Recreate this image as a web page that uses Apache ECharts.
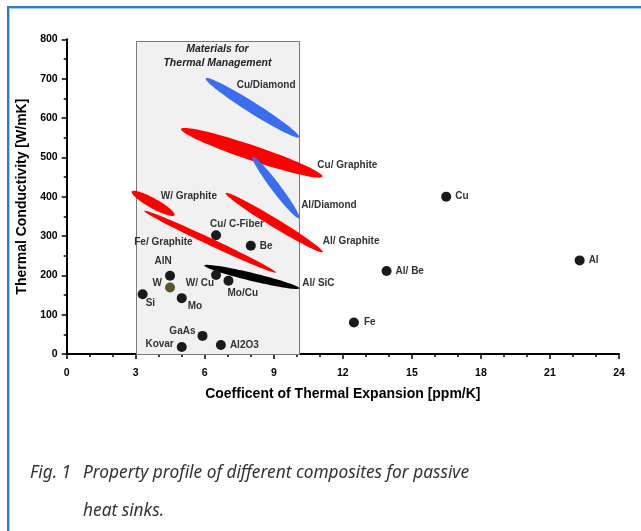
<!DOCTYPE html>
<html><head><meta charset="utf-8">
<script src="https://cdn.jsdelivr.net/npm/echarts@6/dist/echarts.min.js"></script>
<style>
html,body{margin:0;padding:0;background:#fff;width:641px;height:531px;overflow:hidden;}
#frameOuter{position:absolute;left:7px;top:6px;width:634px;height:525px;border-top:2px solid #2b7dc8;border-left:2px solid #2b7dc8;}
#frameInner{position:absolute;left:9px;top:8px;width:632px;height:523px;border-top:1px solid #a9cdee;border-left:1px solid #a9cdee;}
#chart{position:absolute;left:0;top:0;width:641px;height:531px;}
.cap{position:absolute;font-family:"Noto Sans",sans-serif;font-style:italic;font-size:17.3px;color:#333;white-space:nowrap;line-height:22px;}
</style>
</head><body>
<div id="frameOuter"></div><div id="frameInner"></div>
<div id="chart"></div>
<div class="cap" style="left:30px;top:461px;">Fig. 1</div>
<div class="cap" style="left:83px;top:461px;">Property profile of different composites for passive</div>
<div class="cap" style="left:83px;top:499px;">heat sinks.</div>
<script>
// ---- data ----
const xAxisTitle = 'Coefficent of Thermal Expansion [ppm/K]';
const yAxisTitle = 'Thermal Conductivity [W/mK]';
const zoneTitle = ['Materials for', 'Thermal Management'];
const zoneCTE = [3, 10.1];
const zoneTC = [0, 795];

const pointNames = ['Cu/ C-Fiber','Be','AlN','W','Si','Mo','W/ Cu','Mo/Cu','GaAs','Kovar','Al2O3','Cu','Al/ Be','Al','Fe'];
const pointCTE   = [6.49, 8.0, 4.49, 4.49, 3.3, 5.0, 6.49, 7.03, 5.9, 5.0, 6.7, 16.49, 13.9, 22.29, 12.48];
const pointTC    = [302, 275, 199, 169, 152, 142, 201, 186, 46, 18, 23, 400, 211, 238, 80];

const ellipseNames    = ['Cu/Diamond','Cu/ Graphite','Al/Diamond','W/ Graphite','Fe/ Graphite','Al/ Graphite','Al/ SiC'];
const ellipseCTEStart = [6.04, 4.97, 8.07, 2.83, 3.37, 6.91, 5.98];
const ellipseTCStart  = [701, 572, 502, 413, 364, 409, 225];
const ellipseCTEEnd   = [10.1, 11.11, 10.1, 4.68, 9.09, 11.13, 10.11];
const ellipseTCEnd    = [551, 451, 345, 353, 207, 259, 167];

// ---- styles / layout (not data) ----
const ellipseColors = ['#3a6df0','#ff0000','#3a6df0','#ff0000','#ff0000','#ff0000','#000000'];
const ellipseThick  = [11, 15, 9, 10, 7, 9, 8];
const ellipseOrder  = [0, 1, 2, 3, 4, 5, 6];
const ellipseLabelLayout = [
  {at:'start', dx:31, dy:7},
  {at:'end', dx:-5, dy:-11},
  {at:'end', dx:2, dy:-13},
  {at:'start', dx:29, dy:5},
  {at:'start', dx:-10, dy:31},
  {at:'end', dx:0, dy:-11},
  {at:'end', dx:3, dy:-5}
];
const pointColors = pointNames.map(n => n === 'W' ? '#5a5730' : '#1a1a1a');
const pointLabelLayout = [
  {align:'left', dx:-6, dy:-11},
  {align:'left', dx:9, dy:0},
  {align:'center', dx:-7, dy:-14},
  {align:'right', dx:-8, dy:-4},
  {align:'left', dx:3, dy:9},
  {align:'left', dx:6, dy:8},
  {align:'right', dx:-2, dy:8},
  {align:'left', dx:-1, dy:12},
  {align:'right', dx:-7, dy:-5},
  {align:'right', dx:-8, dy:-3},
  {align:'left', dx:9, dy:0},
  {align:'left', dx:9, dy:0},
  {align:'left', dx:9, dy:0},
  {align:'left', dx:9, dy:0},
  {align:'left', dx:10, dy:0}
];
const FONT = '"Liberation Sans", Arial, sans-serif';
const labelColor = '#333';

const chart = echarts.init(document.getElementById('chart'), null, {renderer:'canvas'});

const ellipseData = ellipseOrder.map(i => [ellipseCTEStart[i], ellipseTCStart[i], ellipseCTEEnd[i], ellipseTCEnd[i], i]);

function renderEllipse(params, api) {
  const i = api.value(4);
  const p1 = api.coord([api.value(0), api.value(1)]);
  const p2 = api.coord([api.value(2), api.value(3)]);
  const cx = (p1[0] + p2[0]) / 2, cy = (p1[1] + p2[1]) / 2;
  const dx = p2[0] - p1[0], dy = p2[1] - p1[1];
  const L = Math.hypot(dx, dy);
  const a = L / 2, b = ellipseThick[i] / 2;
  const ux = dx / L, uy = dy / L;
  const pts = [];
  const N = 90;
  for (let k = 0; k < N; k++) {
    const t = k / N * 2 * Math.PI;
    const ex = a * Math.cos(t), ey = b * Math.sin(t);
    pts.push([cx + ex * ux - ey * uy, cy + ex * uy + ey * ux]);
  }
  const lay = ellipseLabelLayout[i];
  const anc = lay.at === 'start' ? p1 : p2;
  return {
    type: 'group',
    children: [
      {type:'polygon', shape:{points:pts}, style:{fill:ellipseColors[i]}},
      {type:'text', x: anc[0] + lay.dx, y: anc[1] + lay.dy, z2: 10,
       style:{text: ellipseNames[i], fill: labelColor, font: 'bold 10px ' + FONT,
              align:'left', verticalAlign:'middle', textAlign:'left', textVerticalAlign:'middle'}}
    ]
  };
}

function renderZone(params, api) {
  const p1 = api.coord([api.value(0), api.value(1)]);
  const p2 = api.coord([api.value(2), api.value(3)]);
  const x = Math.round(p1[0]) + 0.5, y = Math.round(p2[1]) + 0.5;
  const w = Math.round(p2[0] - p1[0]), h = Math.round(p1[1] - p2[1]);
  const cx = (p1[0] + p2[0]) / 2;
  return {
    type:'group',
    children:[
      {type:'rect', shape:{x:x, y:y, width:w, height:h}, style:{fill:'#f1f1f1', stroke:'#7a7a7a', lineWidth:1}},
      {type:'text', x:cx, y:p2[1] + 8, style:{text:zoneTitle[0], fill:'#222', font:'italic bold 10.5px ' + FONT, align:'center', verticalAlign:'middle', textAlign:'center', textVerticalAlign:'middle'}},
      {type:'text', x:cx, y:p2[1] + 21.5, style:{text:zoneTitle[1], fill:'#222', font:'italic bold 10.5px ' + FONT, align:'center', verticalAlign:'middle', textAlign:'center', textVerticalAlign:'middle'}}
    ]
  };
}

const pointData = pointNames.map((n, i) => ({
  name: n,
  value: [pointCTE[i], pointTC[i]],
  itemStyle: {color: pointColors[i], opacity: 1},
  label: {
    show: true, position: 'inside', formatter: n,
    align: pointLabelLayout[i].align, verticalAlign: 'middle',
    offset: [pointLabelLayout[i].dx, pointLabelLayout[i].dy],
    color: labelColor, fontFamily: FONT, fontWeight: 'bold', fontSize: 10
  }
}));

const option = {
  animation: false,
  backgroundColor: 'transparent',
  grid: {left: 66.7, right: 22, top: 39.3, bottom: 177, containLabel: false},
  xAxis: {
    type: 'value', min: 0, max: 24, interval: 3,
    name: xAxisTitle, nameLocation: 'middle', nameGap: 33,
    nameTextStyle: {fontFamily: FONT, fontWeight: 'bold', fontSize: 14, color: '#000'},
    axisLine: {show: true, onZero: false, lineStyle: {color: '#000', width: 2}},
    axisTick: {show: true, inside: false, length: 5, lineStyle: {color: '#000', width: 1.5}},
    minorTick: {show: true, splitNumber: 3, length: 3, lineStyle: {color: '#000', width: 1.5}},
    axisLabel: {fontFamily: FONT, fontWeight: 'bold', fontSize: 10.5, color: '#000', margin: 14},
    splitLine: {show: false}
  },
  yAxis: {
    type: 'value', min: 0, max: 800, interval: 100,
    name: yAxisTitle, nameLocation: 'middle', nameGap: 31,
    nameTextStyle: {fontFamily: FONT, fontWeight: 'bold', fontSize: 14, color: '#000'},
    axisLine: {show: true, onZero: false, lineStyle: {color: '#000', width: 2}},
    axisTick: {show: true, inside: false, length: 5, lineStyle: {color: '#000', width: 1.5}},
    minorTick: {show: true, splitNumber: 2, length: 3, lineStyle: {color: '#000', width: 1.5}},
    axisLabel: {fontFamily: FONT, fontWeight: 'bold', fontSize: 10.5, color: '#000', margin: 9},
    splitLine: {show: false}
  },
  series: [
    {type:'custom', z:1, renderItem: renderZone, data: [[zoneCTE[0], zoneTC[0], zoneCTE[1], zoneTC[1]]], silent:true, clip:false},
    {type:'custom', z:2, renderItem: renderEllipse, data: ellipseData, silent:true, clip:false},
    {type:'scatter', z:3, symbol:'circle', symbolSize: 10, data: pointData, silent:true}
  ]
};
chart.setOption(option);
</script>
</body></html>
